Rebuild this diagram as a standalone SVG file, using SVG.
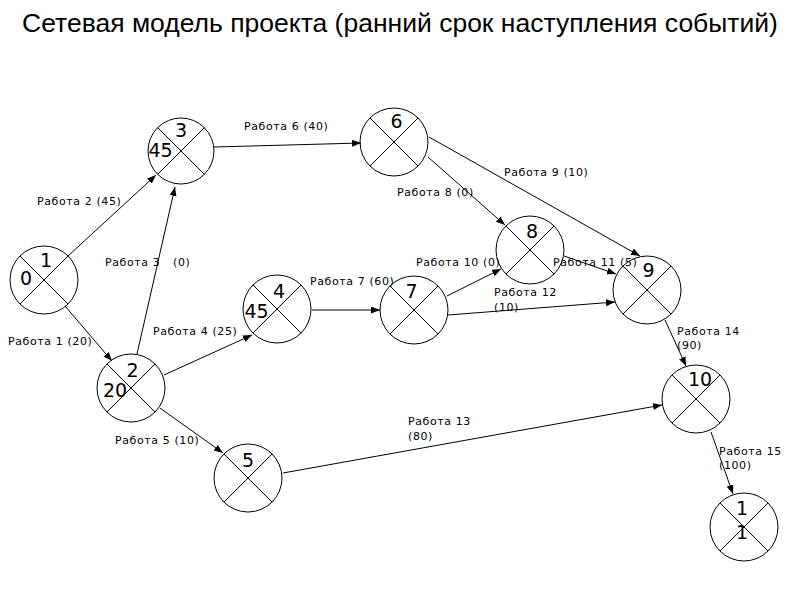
<svg xmlns="http://www.w3.org/2000/svg" width="800" height="600" viewBox="0 0 800 600">
<style>
.node circle{fill:none;stroke:#000;stroke-width:1}
.node path{fill:none;stroke:#000;stroke-width:1}
.num{font-family:"DejaVu Sans",sans-serif;font-size:19px;fill:#000;text-anchor:middle}
.lbl{font-family:"DejaVu Sans",sans-serif;font-size:11px;letter-spacing:0.6px;fill:#000}
.title{font-family:"Liberation Sans",Arial,sans-serif;font-size:26.5px;fill:#000;text-anchor:middle}
#edges line{stroke:#000;stroke-width:1;marker-end:url(#arr)}
</style>
<defs>
<marker id="arr" markerUnits="userSpaceOnUse" markerWidth="10" markerHeight="8" refX="9" refY="3.5" orient="auto">
<path d="M0,0 L9,3.5 L0,7 z" fill="#000"/>
</marker>
</defs>
<rect width="800" height="600" fill="#fff"/>
<text class="title" x="400" y="32">Сетевая модель проекта (ранний срок наступления событий)</text>

<g id="edges">
<line x1="65" y1="306" x2="112" y2="361"/>
<line x1="68" y1="256" x2="156" y2="175"/>
<line x1="137" y1="354" x2="175" y2="187"/>
<line x1="164" y1="375" x2="252" y2="335"/>
<line x1="160" y1="408" x2="223" y2="453"/>
<line x1="214" y1="147" x2="361" y2="143"/>
<line x1="312" y1="310" x2="380" y2="310"/>
<line x1="428" y1="157" x2="505" y2="225"/>
<line x1="429" y1="137" x2="640" y2="256"/>
<line x1="447" y1="296" x2="501" y2="269"/>
<line x1="448" y1="315" x2="615" y2="302"/>
<line x1="564" y1="256" x2="616" y2="274"/>
<line x1="665" y1="320" x2="686" y2="366"/>
<line x1="283" y1="473" x2="662" y2="405"/>
<line x1="711" y1="432" x2="733" y2="494"/>
</g>

<g id="node1" class="node"><circle cx="44" cy="280" r="34"/><path d="M20,256 L68,304 M20,304 L68,256"/><text class="num" x="46" y="267">1</text><text class="num" x="26" y="285">0</text></g>
<g id="node2" class="node"><circle cx="131" cy="388" r="34"/><path d="M107,364 L155,412 M107,412 L155,364"/><text class="num" x="132.5" y="377">2</text><text class="num" x="115" y="397">20</text></g>
<g id="node3" class="node"><circle cx="181" cy="151" r="33"/><path d="M157.5,127.5 L204.5,174.5 M157.5,174.5 L204.5,127.5"/><text class="num" x="181" y="137">3</text><text class="num" x="160.5" y="157">45</text></g>
<g id="node4" class="node"><circle cx="277" cy="309" r="34"/><path d="M253,285 L301,333 M253,333 L301,285"/><text class="num" x="279" y="298">4</text><text class="num" x="256.5" y="318">45</text></g>
<g id="node5" class="node"><circle cx="248" cy="478" r="34"/><path d="M224,454 L272,502 M224,502 L272,454"/><text class="num" x="248" y="467">5</text></g>
<g id="node6" class="node"><circle cx="394" cy="142" r="34"/><path d="M370,118 L418,166 M370,166 L418,118"/><text class="num" x="396.5" y="128">6</text></g>
<g id="node7" class="node"><circle cx="414" cy="310" r="34"/><path d="M390,286 L438,334 M390,334 L438,286"/><text class="num" x="411.5" y="298">7</text></g>
<g id="node8" class="node"><circle cx="530" cy="250" r="34"/><path d="M506,226 L554,274 M506,274 L554,226"/><text class="num" x="532" y="238">8</text></g>
<g id="node9" class="node"><circle cx="647" cy="290" r="34"/><path d="M623,266 L671,314 M623,314 L671,266"/><text class="num" x="648.5" y="277">9</text></g>
<g id="node10" class="node"><circle cx="696" cy="399" r="34"/><path d="M672,375 L720,423 M672,423 L720,375"/><text class="num" x="700" y="386">10</text></g>
<g id="node11" class="node"><circle cx="744" cy="527" r="34"/><path d="M720,503 L768,551 M720,551 L768,503"/><text class="num" x="742" y="515">1</text><text class="num" x="742" y="539">1</text></g>

<g id="edge-labels">
<text class="lbl" x="8" y="345">Работа 1 (20)</text>
<text class="lbl" x="37" y="205">Работа 2 (45)</text>
<text class="lbl" x="105" y="266">Работа 3<tspan x="173">(0)</tspan></text>
<text class="lbl" x="153" y="335">Работа 4 (25)</text>
<text class="lbl" x="115" y="444">Работа 5 (10)</text>
<text class="lbl" x="244" y="130">Работа 6 (40)</text>
<text class="lbl" x="310" y="285">Работа 7 (60)</text>
<text class="lbl" x="397" y="196">Работа 8 (0)</text>
<text class="lbl" x="504" y="176">Работа 9 (10)</text>
<text class="lbl" x="416" y="266">Работа 10 (0)</text>
<text class="lbl" x="553" y="266">Работа 11 (5)</text>
<text class="lbl" x="494" y="296">Работа 12<tspan x="494" y="311">(10)</tspan></text>
<text class="lbl" x="408" y="425">Работа 13<tspan x="408" y="440">(80)</tspan></text>
<text class="lbl" x="677" y="335">Работа 14<tspan x="677" y="349">(90)</tspan></text>
<text class="lbl" x="719" y="455">Работа 15<tspan x="719" y="469">(100)</tspan></text>
</g>
</svg>
